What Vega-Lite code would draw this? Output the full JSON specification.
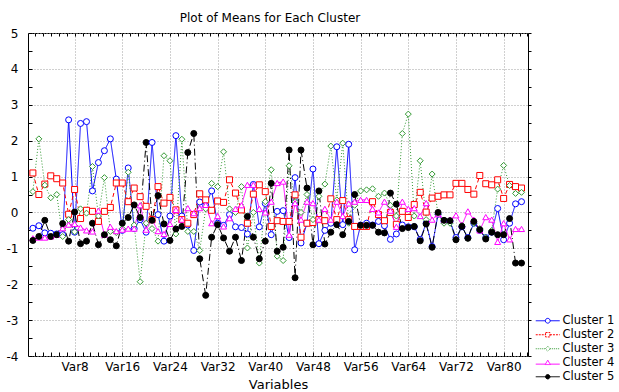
{
  "$schema": "https://vega.github.io/schema/vega-lite/v6.json",
  "width": 500,
  "height": 323,
  "autosize": "none",
  "padding": {"left": 28, "top": 33, "right": 91, "bottom": 36},
  "background": "white",
  "title": {"text": "Plot of Means for Each Cluster", "font": "DejaVu Sans", "fontSize": 12, "fontWeight": "normal", "color": "#000000", "anchor": "middle", "offset": 2, "dx": -8},
  "config": {
    "view": {"stroke": "#000000", "strokeWidth": 1},
    "axis": {"labelFont": "DejaVu Sans", "labelFontSize": 12, "labelColor": "#000000", "titleFont": "DejaVu Sans", "titleFontSize": 13, "titleFontWeight": "normal", "titleColor": "#000000", "domain": false, "tickColor": "#000000", "tickWidth": 1, "gridColor": "#a0a0a0", "gridDash": [1, 2], "gridWidth": 1, "labelOverlap": false, "labelBound": false, "labelFlush": false}
  },
  "data": {"values": [
    {"v":1,"Cluster 1":-0.44,"Cluster 2":1.1,"Cluster 3":0.58,"Cluster 4":-0.72,"Cluster 5":-0.78},
    {"v":2,"Cluster 1":-0.37,"Cluster 2":0.5,"Cluster 3":2.05,"Cluster 4":-0.7,"Cluster 5":-0.67},
    {"v":3,"Cluster 1":-0.57,"Cluster 2":0.79,"Cluster 3":0.76,"Cluster 4":-0.7,"Cluster 5":-0.22},
    {"v":4,"Cluster 1":-0.58,"Cluster 2":1.02,"Cluster 3":0.41,"Cluster 4":-0.67,"Cluster 5":-0.67},
    {"v":5,"Cluster 1":-0.6,"Cluster 2":0.94,"Cluster 3":0.5,"Cluster 4":-0.62,"Cluster 5":-0.62},
    {"v":6,"Cluster 1":-0.62,"Cluster 2":0.82,"Cluster 3":-0.67,"Cluster 4":-0.44,"Cluster 5":-0.31},
    {"v":7,"Cluster 1":2.58,"Cluster 2":-0.05,"Cluster 3":-0.2,"Cluster 4":-0.34,"Cluster 5":-0.8},
    {"v":8,"Cluster 1":-0.55,"Cluster 2":0.64,"Cluster 3":-0.54,"Cluster 4":-0.32,"Cluster 5":0.01},
    {"v":9,"Cluster 1":2.48,"Cluster 2":-0.17,"Cluster 3":0.1,"Cluster 4":-0.42,"Cluster 5":-0.87},
    {"v":10,"Cluster 1":2.53,"Cluster 2":0.06,"Cluster 3":-0.02,"Cluster 4":-0.5,"Cluster 5":-0.8},
    {"v":11,"Cluster 1":0.6,"Cluster 2":0.03,"Cluster 3":1.28,"Cluster 4":-0.53,"Cluster 5":-0.3},
    {"v":12,"Cluster 1":1.39,"Cluster 2":-0.25,"Cluster 3":-0.1,"Cluster 4":0.05,"Cluster 5":-0.9},
    {"v":13,"Cluster 1":1.72,"Cluster 2":0.03,"Cluster 3":0.97,"Cluster 4":-0.62,"Cluster 5":-0.62},
    {"v":14,"Cluster 1":2.05,"Cluster 2":0.14,"Cluster 3":-0.53,"Cluster 4":-0.4,"Cluster 5":-0.76},
    {"v":15,"Cluster 1":0.93,"Cluster 2":0.82,"Cluster 3":-0.56,"Cluster 4":-0.52,"Cluster 5":-0.93},
    {"v":16,"Cluster 1":-0.5,"Cluster 2":0.82,"Cluster 3":-0.45,"Cluster 4":-0.48,"Cluster 5":-0.3},
    {"v":17,"Cluster 1":1.24,"Cluster 2":0.3,"Cluster 3":1.12,"Cluster 4":-0.45,"Cluster 5":-0.14},
    {"v":18,"Cluster 1":-0.45,"Cluster 2":0.68,"Cluster 3":-0.35,"Cluster 4":-0.45,"Cluster 5":0.21},
    {"v":19,"Cluster 1":-0.2,"Cluster 2":0.44,"Cluster 3":-1.93,"Cluster 4":0.2,"Cluster 5":-0.14},
    {"v":20,"Cluster 1":-0.55,"Cluster 2":0.17,"Cluster 3":-0.3,"Cluster 4":-0.48,"Cluster 5":1.95},
    {"v":21,"Cluster 1":1.95,"Cluster 2":-0.2,"Cluster 3":-0.45,"Cluster 4":-0.2,"Cluster 5":-0.22},
    {"v":22,"Cluster 1":-0.06,"Cluster 2":0.72,"Cluster 3":-0.8,"Cluster 4":-0.52,"Cluster 5":0.47},
    {"v":23,"Cluster 1":-0.8,"Cluster 2":0.26,"Cluster 3":1.58,"Cluster 4":-0.6,"Cluster 5":-0.32},
    {"v":24,"Cluster 1":-0.1,"Cluster 2":0.42,"Cluster 3":1.44,"Cluster 4":-0.32,"Cluster 5":-0.78},
    {"v":25,"Cluster 1":2.14,"Cluster 2":0.07,"Cluster 3":-0.6,"Cluster 4":0.07,"Cluster 5":-0.46},
    {"v":26,"Cluster 1":-0.1,"Cluster 2":-0.2,"Cluster 3":2.04,"Cluster 4":-0.2,"Cluster 5":-0.39},
    {"v":27,"Cluster 1":-0.35,"Cluster 2":-0.3,"Cluster 3":-0.53,"Cluster 4":0.12,"Cluster 5":1.67},
    {"v":28,"Cluster 1":-1.06,"Cluster 2":-0.06,"Cluster 3":-0.53,"Cluster 4":-0.02,"Cluster 5":2.2},
    {"v":29,"Cluster 1":0.29,"Cluster 2":0.52,"Cluster 3":-1.06,"Cluster 4":0.12,"Cluster 5":-1.29},
    {"v":30,"Cluster 1":0.2,"Cluster 2":0.35,"Cluster 3":0.1,"Cluster 4":0.21,"Cluster 5":-2.31},
    {"v":31,"Cluster 1":0.6,"Cluster 2":0.06,"Cluster 3":0.81,"Cluster 4":-0.3,"Cluster 5":-0.69},
    {"v":32,"Cluster 1":-0.3,"Cluster 2":0.32,"Cluster 3":0.72,"Cluster 4":-0.1,"Cluster 5":-0.34},
    {"v":33,"Cluster 1":-0.36,"Cluster 2":0.28,"Cluster 3":1.69,"Cluster 4":-0.39,"Cluster 5":-0.71},
    {"v":34,"Cluster 1":-0.06,"Cluster 2":0.91,"Cluster 3":0.1,"Cluster 4":-0.16,"Cluster 5":-1.08},
    {"v":35,"Cluster 1":-0.4,"Cluster 2":0.54,"Cluster 3":0,"Cluster 4":0.1,"Cluster 5":-0.69},
    {"v":36,"Cluster 1":-0.42,"Cluster 2":0.07,"Cluster 3":0.72,"Cluster 4":0.2,"Cluster 5":-1.34},
    {"v":37,"Cluster 1":-0.6,"Cluster 2":-0.3,"Cluster 3":-0.99,"Cluster 4":0.77,"Cluster 5":-0.11},
    {"v":38,"Cluster 1":0.78,"Cluster 2":0.51,"Cluster 3":0,"Cluster 4":0.77,"Cluster 5":-0.69},
    {"v":39,"Cluster 1":-0.4,"Cluster 2":0.77,"Cluster 3":-1.41,"Cluster 4":0.1,"Cluster 5":-1.29},
    {"v":40,"Cluster 1":0.25,"Cluster 2":0.58,"Cluster 3":0.3,"Cluster 4":0,"Cluster 5":-0.8},
    {"v":41,"Cluster 1":-0.62,"Cluster 2":-0.39,"Cluster 3":1.19,"Cluster 4":0.3,"Cluster 5":0.81},
    {"v":42,"Cluster 1":0.03,"Cluster 2":-0.23,"Cluster 3":-1.22,"Cluster 4":0.82,"Cluster 5":-1.08},
    {"v":43,"Cluster 1":0.05,"Cluster 2":-0.25,"Cluster 3":-1.34,"Cluster 4":0.86,"Cluster 5":-0.97},
    {"v":44,"Cluster 1":-0.7,"Cluster 2":-0.25,"Cluster 3":1.3,"Cluster 4":-0.62,"Cluster 5":1.74},
    {"v":45,"Cluster 1":0.97,"Cluster 2":0.49,"Cluster 3":0.3,"Cluster 4":0.26,"Cluster 5":-1.82},
    {"v":46,"Cluster 1":-0.85,"Cluster 2":-0.69,"Cluster 3":0,"Cluster 4":-0.2,"Cluster 5":1.74},
    {"v":47,"Cluster 1":-0.3,"Cluster 2":-0.3,"Cluster 3":0.5,"Cluster 4":0.3,"Cluster 5":0.68},
    {"v":48,"Cluster 1":1.21,"Cluster 2":-0.28,"Cluster 3":-0.2,"Cluster 4":0.26,"Cluster 5":-0.9},
    {"v":49,"Cluster 1":-0.87,"Cluster 2":-0.2,"Cluster 3":0.45,"Cluster 4":-0.2,"Cluster 5":0.6},
    {"v":50,"Cluster 1":-0.5,"Cluster 2":-0.23,"Cluster 3":0.79,"Cluster 4":0.1,"Cluster 5":-0.88},
    {"v":51,"Cluster 1":-0.3,"Cluster 2":0.38,"Cluster 3":1.85,"Cluster 4":-0.2,"Cluster 5":-0.55},
    {"v":52,"Cluster 1":1.83,"Cluster 2":-0.2,"Cluster 3":0.35,"Cluster 4":0.3,"Cluster 5":-0.34},
    {"v":53,"Cluster 1":-0.34,"Cluster 2":0.33,"Cluster 3":1.93,"Cluster 4":-0.1,"Cluster 5":-0.62},
    {"v":54,"Cluster 1":1.9,"Cluster 2":-0.2,"Cluster 3":-0.3,"Cluster 4":0.25,"Cluster 5":-0.25},
    {"v":55,"Cluster 1":-1.04,"Cluster 2":-0.39,"Cluster 3":0.2,"Cluster 4":0.3,"Cluster 5":0.5},
    {"v":56,"Cluster 1":-0.35,"Cluster 2":-0.39,"Cluster 3":0.6,"Cluster 4":0.35,"Cluster 5":-0.36},
    {"v":57,"Cluster 1":-0.3,"Cluster 2":-0.39,"Cluster 3":0.63,"Cluster 4":0.35,"Cluster 5":-0.36},
    {"v":58,"Cluster 1":-0.35,"Cluster 2":0.3,"Cluster 3":0.66,"Cluster 4":0.1,"Cluster 5":-0.36},
    {"v":59,"Cluster 1":-0.25,"Cluster 2":-0.06,"Cluster 3":0.45,"Cluster 4":0,"Cluster 5":-0.55},
    {"v":60,"Cluster 1":-0.37,"Cluster 2":-0.23,"Cluster 3":0.54,"Cluster 4":0.3,"Cluster 5":-0.57},
    {"v":61,"Cluster 1":-0.75,"Cluster 2":0,"Cluster 3":0.2,"Cluster 4":0.05,"Cluster 5":0.54},
    {"v":62,"Cluster 1":-0.6,"Cluster 2":-0.33,"Cluster 3":-0.1,"Cluster 4":-0.4,"Cluster 5":0.23},
    {"v":63,"Cluster 1":-0.35,"Cluster 2":0.03,"Cluster 3":2.2,"Cluster 4":0.3,"Cluster 5":-0.45},
    {"v":64,"Cluster 1":-0.4,"Cluster 2":-0.14,"Cluster 3":2.74,"Cluster 4":0.1,"Cluster 5":-0.42},
    {"v":65,"Cluster 1":-0.4,"Cluster 2":0.22,"Cluster 3":-0.1,"Cluster 4":0.12,"Cluster 5":-0.39},
    {"v":66,"Cluster 1":-0.75,"Cluster 2":0.56,"Cluster 3":1.44,"Cluster 4":-0.1,"Cluster 5":-0.79},
    {"v":67,"Cluster 1":-0.3,"Cluster 2":0.01,"Cluster 3":-0.2,"Cluster 4":0.26,"Cluster 5":-0.32},
    {"v":68,"Cluster 1":-0.95,"Cluster 2":0.4,"Cluster 3":1.07,"Cluster 4":-0.2,"Cluster 5":-0.97},
    {"v":69,"Cluster 1":-0.05,"Cluster 2":0.45,"Cluster 3":-0.05,"Cluster 4":-0.05,"Cluster 5":0},
    {"v":70,"Cluster 1":-0.25,"Cluster 2":0.49,"Cluster 3":-0.3,"Cluster 4":-0.2,"Cluster 5":-0.22},
    {"v":71,"Cluster 1":-0.25,"Cluster 2":0.49,"Cluster 3":-0.3,"Cluster 4":-0.2,"Cluster 5":-0.23},
    {"v":72,"Cluster 1":-0.7,"Cluster 2":0.81,"Cluster 3":-0.75,"Cluster 4":-0.08,"Cluster 5":-0.76},
    {"v":73,"Cluster 1":-0.4,"Cluster 2":0.81,"Cluster 3":-0.35,"Cluster 4":-0.35,"Cluster 5":-0.39},
    {"v":74,"Cluster 1":-0.7,"Cluster 2":0.64,"Cluster 3":-0.72,"Cluster 4":0.03,"Cluster 5":-0.72},
    {"v":75,"Cluster 1":-0.3,"Cluster 2":0.51,"Cluster 3":-0.3,"Cluster 4":-0.2,"Cluster 5":-0.25},
    {"v":76,"Cluster 1":-0.5,"Cluster 2":1.03,"Cluster 3":-0.45,"Cluster 4":-0.5,"Cluster 5":-0.48},
    {"v":77,"Cluster 1":-0.7,"Cluster 2":0.8,"Cluster 3":-0.7,"Cluster 4":-0.13,"Cluster 5":-0.74},
    {"v":78,"Cluster 1":-0.55,"Cluster 2":0.77,"Cluster 3":-0.5,"Cluster 4":-0.2,"Cluster 5":-0.55},
    {"v":79,"Cluster 1":0.11,"Cluster 2":0.91,"Cluster 3":0.65,"Cluster 4":-0.82,"Cluster 5":-0.62},
    {"v":80,"Cluster 1":-0.76,"Cluster 2":0.39,"Cluster 3":1.31,"Cluster 4":-0.3,"Cluster 5":-0.62},
    {"v":81,"Cluster 1":-0.3,"Cluster 2":0.78,"Cluster 3":0.75,"Cluster 4":-0.75,"Cluster 5":-0.17},
    {"v":82,"Cluster 1":0.24,"Cluster 2":0.72,"Cluster 3":0.53,"Cluster 4":-0.46,"Cluster 5":-1.41},
    {"v":83,"Cluster 1":0.3,"Cluster 2":0.68,"Cluster 3":0.56,"Cluster 4":-0.46,"Cluster 5":-1.41}
  ]},
  "transform": [{"fold": ["Cluster 1", "Cluster 2", "Cluster 3", "Cluster 4", "Cluster 5"], "as": ["c", "m"]}],
  "layer": [
    {
      "mark": {"type": "line", "strokeWidth": 1},
      "encoding": {
        "x": {"field": "v", "type": "quantitative", "scale": {"domain": [0.18, 84.09], "nice": false, "zero": false},
          "axis": {"values": [1.3333,2.6667,4,5.3333,6.6667,8,9.3333,10.6667,12,13.3333,14.6667,16,17.3333,18.6667,20,21.3333,22.6667,24,25.3333,26.6667,28,29.3333,30.6667,32,33.3333,34.6667,36,37.3333,38.6667,40,41.3333,42.6667,44,45.3333,46.6667,48,49.3333,50.6667,52,53.3333,54.6667,56,57.3333,58.6667,60,61.3333,62.6667,64,65.3333,66.6667,68,69.3333,70.6667,72,73.3333,74.6667,76,77.3333,78.6667,80,81.3333,82.6667,84],
            "labelExpr": "datum.value % 8 === 0 ? 'Var' + datum.value : ''",
            "gridOpacity": {"condition": {"test": "datum.value % 8 === 0", "value": 1}, "value": 0},
            "tickSize": -4, "labelPadding": 9, "title": "Variables", "titlePadding": 6, "labelAngle": 0}},
        "y": {"field": "m", "type": "quantitative", "scale": {"domain": [-4, 5], "nice": false, "zero": false},
          "axis": {"values": [-4,-3.5,-3,-2.5,-2,-1.5,-1,-0.5,0,0.5,1,1.5,2,2.5,3,3.5,4,4.5,5],
            "labelExpr": "datum.value % 1 === 0 ? '' + datum.value : ''",
            "gridOpacity": {"condition": {"test": "datum.value % 1 === 0", "value": 1}, "value": 0},
            "tickSize": -4, "labelPadding": 14, "title": null}},
        "color": {"field": "c", "type": "nominal", "scale": {"domain": ["Cluster 1", "Cluster 2", "Cluster 3", "Cluster 4", "Cluster 5"], "range": ["#0000ff", "#ff0000", "#339933", "#ff00ff", "#000000"]}, "legend": null},
        "strokeDash": {"field": "c", "type": "nominal", "scale": {"domain": ["Cluster 1", "Cluster 2", "Cluster 3", "Cluster 4", "Cluster 5"], "range": [[1, 0], [4, 3], [1, 2], [1, 0], [7, 3, 1, 3]]}, "legend": null}
      }
    },
    {
      "mark": {"type": "point", "filled": true, "size": 36, "strokeWidth": 1, "opacity": 1},
      "encoding": {
        "x": {"field": "v", "type": "quantitative", "axis": null},
        "y": {"field": "m", "type": "quantitative", "axis": null},
        "shape": {"field": "c", "type": "nominal", "scale": {"domain": ["Cluster 1", "Cluster 2", "Cluster 3", "Cluster 4", "Cluster 5"], "range": ["circle", "square", "diamond", "triangle-up", "circle"]}, "legend": null},
        "stroke": {"field": "c", "type": "nominal", "scale": {"domain": ["Cluster 1", "Cluster 2", "Cluster 3", "Cluster 4", "Cluster 5"], "range": ["#0000ff", "#ff0000", "#339933", "#ff00ff", "#000000"]}, "legend": null},
        "fill": {"field": "c", "type": "nominal", "scale": {"domain": ["Cluster 1", "Cluster 2", "Cluster 3", "Cluster 4", "Cluster 5"], "range": ["#ffffff", "#ffffff", "#ffffff", "#ffffff", "#000000"]}, "legend": null}
      }
    },
    {
      "transform": [{"filter": "datum.v < 0"}],
      "mark": {"type": "point", "filled": true, "strokeWidth": 1, "opacity": 1},
      "encoding": {
        "x": {"field": "v", "type": "quantitative", "axis": {"orient": "top", "values": [1.3333,2.6667,4,5.3333,6.6667,8,9.3333,10.6667,12,13.3333,14.6667,16,17.3333,18.6667,20,21.3333,22.6667,24,25.3333,26.6667,28,29.3333,30.6667,32,33.3333,34.6667,36,37.3333,38.6667,40,41.3333,42.6667,44,45.3333,46.6667,48,49.3333,50.6667,52,53.3333,54.6667,56,57.3333,58.6667,60,61.3333,62.6667,64,65.3333,66.6667,68,69.3333,70.6667,72,73.3333,74.6667,76,77.3333,78.6667,80,81.3333,82.6667,84], "labels": false, "grid": false, "tickSize": -3, "title": null}},
        "y": {"field": "m", "type": "quantitative", "axis": {"orient": "right", "values": [-4,-3.5,-3,-2.5,-2,-1.5,-1,-0.5,0,0.5,1,1.5,2,2.5,3,3.5,4,4.5,5], "labels": false, "grid": false, "tickSize": 3, "title": null}},
        "stroke": {"field": "c", "type": "nominal", "scale": {"domain": ["Cluster 1", "Cluster 2", "Cluster 3", "Cluster 4", "Cluster 5"], "range": ["#0000ff", "#ff0000", "#339933", "#ff00ff", "#000000"]},
          "legend": {"title": null, "orient": "none", "legendX": 514, "legendY": 282, "symbolSize": 64, "symbolStrokeWidth": 1, "labelFont": "DejaVu Sans", "labelFontSize": 11.5, "labelColor": "#000000", "labelOffset": 9, "rowPadding": 1, "padding": 0}},
        "shape": {"field": "c", "type": "nominal", "scale": {"domain": ["Cluster 1", "Cluster 2", "Cluster 3", "Cluster 4", "Cluster 5"], "range": [
          "M-3,0H-0.6M0.6,0H3M0.6,0A0.6,0.6 0 1,1 -0.6,0A0.6,0.6 0 1,1 0.6,0Z",
          "M-3,0H-0.55M0.55,0H3M-0.55,-0.55H0.55V0.55H-0.55Z",
          "M-3,0H-0.6M0.6,0H3M0,-0.6L0.6,0L0,0.6L-0.6,0Z",
          "M-3,0.35H-0.6M0.6,0.35H3M0,-0.65L0.65,0.45H-0.65Z",
          "M-3,0H3M0.55,0A0.55,0.55 0 1,1 -0.55,0A0.55,0.55 0 1,1 0.55,0Z"]},
          "legend": {"title": null, "orient": "none", "legendX": 514, "legendY": 282, "symbolSize": 64, "symbolStrokeWidth": 1, "labelFont": "DejaVu Sans", "labelFontSize": 11.5, "labelColor": "#000000", "labelOffset": 9, "rowPadding": 1, "padding": 0}},
        "fill": {"field": "c", "type": "nominal", "scale": {"domain": ["Cluster 1", "Cluster 2", "Cluster 3", "Cluster 4", "Cluster 5"], "range": ["#ffffff", "#ffffff", "#ffffff", "#ffffff", "#000000"]},
          "legend": {"title": null, "orient": "none", "legendX": 514, "legendY": 282, "symbolSize": 64, "symbolStrokeWidth": 1, "labelFont": "DejaVu Sans", "labelFontSize": 11.5, "labelColor": "#000000", "labelOffset": 9, "rowPadding": 1, "padding": 0}},
        "strokeDash": {"field": "c", "type": "nominal", "scale": {"domain": ["Cluster 1", "Cluster 2", "Cluster 3", "Cluster 4", "Cluster 5"], "range": [[1, 0], [2, 1], [1, 1], [1, 0], [1, 0]]},
          "legend": {"title": null, "orient": "none", "legendX": 514, "legendY": 282, "symbolSize": 64, "symbolStrokeWidth": 1, "labelFont": "DejaVu Sans", "labelFontSize": 11.5, "labelColor": "#000000", "labelOffset": 9, "rowPadding": 1, "padding": 0}}
      }
    }
  ],
  "resolve": {"scale": {"color": "independent", "stroke": "independent", "fill": "independent", "shape": "independent", "strokeDash": "independent"}, "axis": {"x": "independent", "y": "independent"}}
}
